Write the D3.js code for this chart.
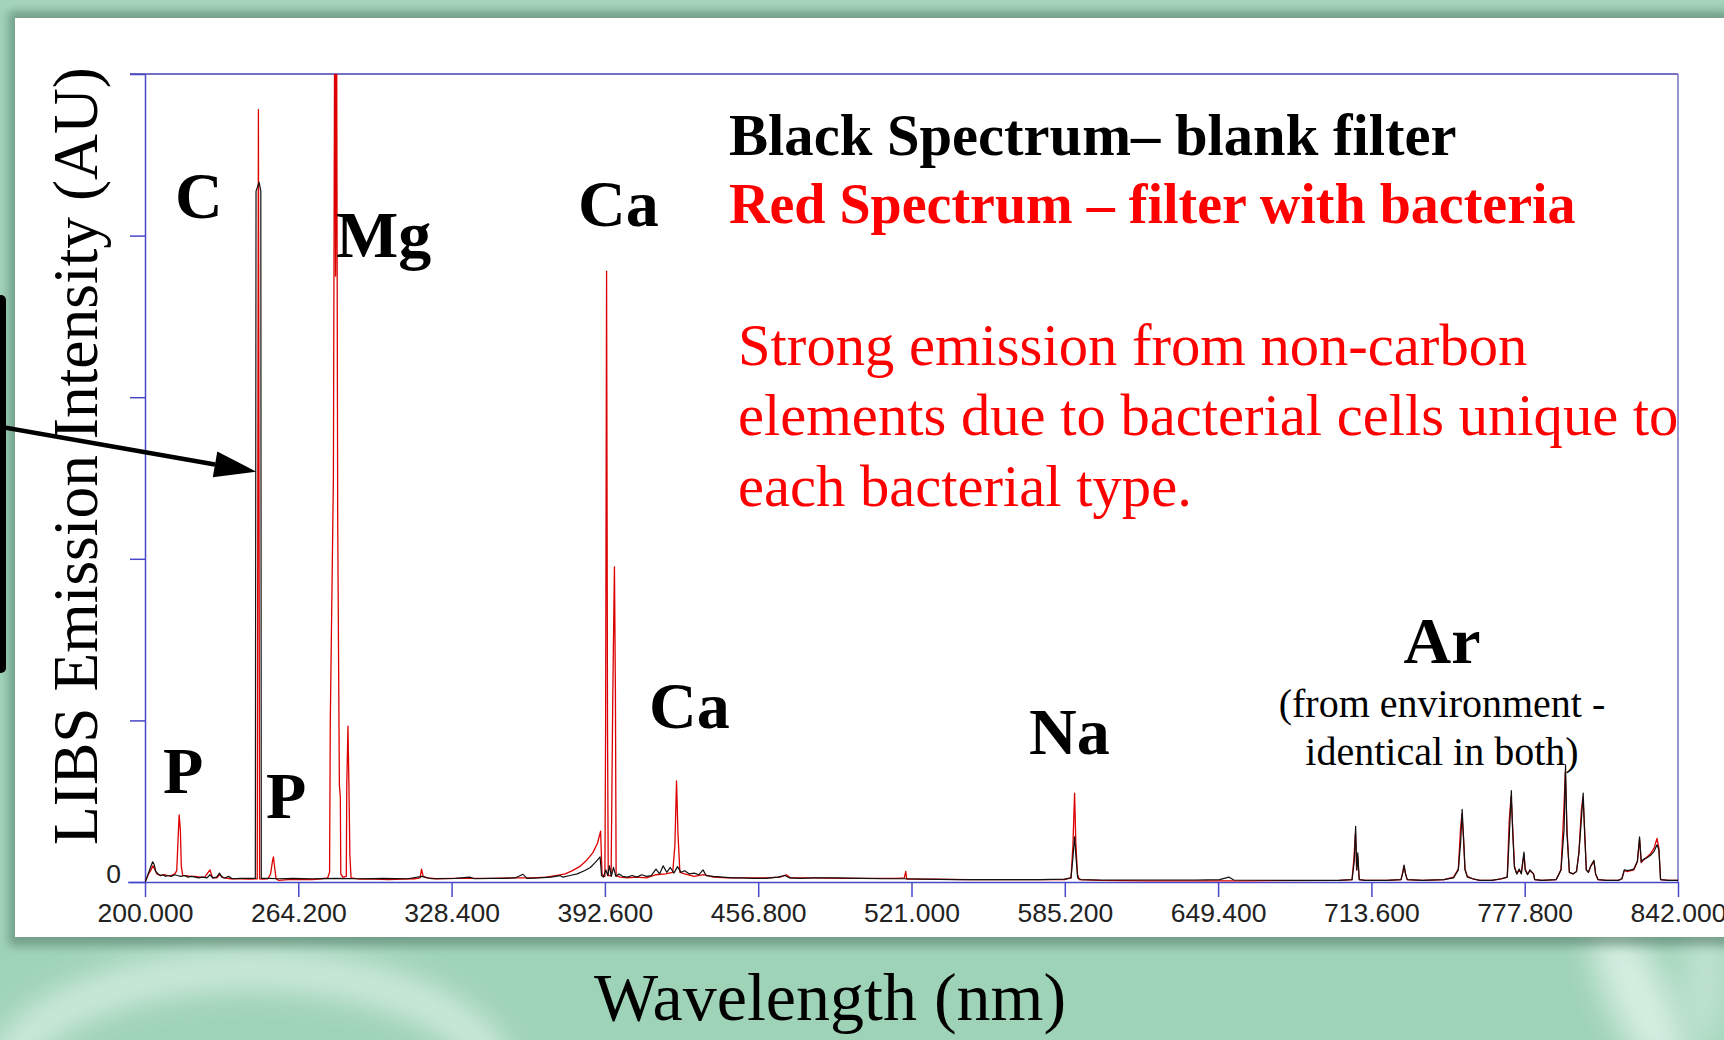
<!DOCTYPE html>
<html>
<head>
<meta charset="utf-8">
<script src="https://cdn.jsdelivr.net/npm/d3@7"></script>
<style>
  html, body { margin: 0; padding: 0; background: #9fd3b8; overflow: hidden; }
  svg { display: block; }
</style>
</head>
<body>
<div id="chart"></div>
<script>
// wavelength ticks (nm) and intensity ticks (% of full scale)
const xTicks = [200.0, 264.2, 328.4, 392.6, 456.8, 521.0, 585.2, 649.4, 713.6, 777.8, 842.0];
const yTicks = [0, 20, 40, 60, 80, 100];

// Black spectrum - blank filter: [wavelength nm, intensity %]
const blankSpectrum = [
  [200.0, 0.0], [200.5, 0.3], [201.3, 1.0], [202.3, 1.8], [203.2, 2.5], [203.8, 2.2], [204.5, 1.3],
  [205.5, 1.0], [206.5, 0.8], [207.5, 0.9], [208.5, 0.7], [209.5, 0.8], [211.0, 0.7], [212.5, 0.9],
  [213.5, 0.8], [215.0, 0.7], [216.5, 0.8], [218.0, 0.6], [219.5, 0.7], [221.0, 0.6], [222.5, 0.5],
  [224.0, 0.6], [226.0, 0.5], [227.2, 0.9], [228.5, 0.5], [230.0, 0.6], [231.2, 1.1], [232.2, 0.6],
  [233.5, 0.5], [235.0, 0.7], [236.5, 0.4], [240.0, 0.45], [244.0, 0.45], [246.2, 0.45],
  [246.5, 85.5], [247.8, 86.6], [248.5, 85.5], [248.7, 0.45],
  [252.0, 0.45], [256.0, 0.4], [262.0, 0.45], [270.0, 0.4], [280.0, 0.45], [290.0, 0.4],
  [300.0, 0.45], [310.0, 0.4], [316.0, 0.7], [320.0, 0.4], [330.0, 0.45], [336.0, 0.6], [338.0, 0.4],
  [345.0, 0.45], [350.0, 0.45], [355.0, 0.5], [358.3, 0.95], [360.0, 0.45], [365.0, 0.5],
  [370.0, 0.6], [373.8, 0.8], [375.0, 0.6], [378.0, 0.8], [381.0, 1.0], [384.0, 1.4], [386.5, 1.8],
  [388.5, 2.4], [390.0, 2.9], [390.6, 3.1], [391.2, 0.8], [392.0, 0.6], [393.0, 1.5], [393.8, 0.8],
  [394.5, 2.0], [395.3, 0.7], [396.2, 1.8], [397.2, 0.7], [398.5, 1.0], [400.0, 0.7], [402.0, 0.6],
  [404.0, 0.8], [406.0, 0.6], [408.0, 0.9], [410.0, 0.7], [412.0, 0.8], [414.0, 1.6], [415.5, 1.0],
  [417.0, 2.0], [418.5, 1.2], [420.0, 1.8], [421.5, 1.1], [423.0, 1.9], [424.5, 1.2], [426.0, 1.4],
  [428.0, 1.0], [430.0, 1.1], [432.0, 0.9], [433.7, 1.5], [435.0, 0.8], [438.0, 0.7], [442.0, 0.6],
  [446.0, 0.5], [450.0, 0.5], [455.0, 0.45], [460.0, 0.45], [465.0, 0.6], [468.0, 0.8], [470.0, 0.5],
  [475.0, 0.45], [480.0, 0.5], [490.0, 0.5], [500.0, 0.45], [510.0, 0.4], [518.0, 0.4], [525.0, 0.35],
  [540.0, 0.3], [560.0, 0.3], [575.0, 0.3], [585.0, 0.35], [587.8, 0.5], [588.6, 3.0], [589.3, 5.6],
  [589.9, 3.0], [590.6, 0.5], [592.0, 0.3], [600.0, 0.25], [620.0, 0.25], [640.0, 0.25], [650.0, 0.3],
  [654.0, 0.6], [656.0, 0.25], [680.0, 0.2], [700.0, 0.2],
  [705.5, 0.3], [706.4, 2.5], [707.0, 6.9], [707.5, 1.5], [707.9, 3.6], [708.5, 0.3], [711.0, 0.2],
  [720.0, 0.2], [726.0, 0.3], [726.8, 1.2], [727.3, 2.1], [727.9, 1.0], [728.6, 0.3], [735.0, 0.2],
  [744.0, 0.3], [748.0, 0.5], [750.0, 1.5], [751.0, 5.0], [751.6, 9.0], [752.2, 5.5], [752.8, 1.5],
  [753.8, 0.6], [756.0, 0.4], [759.0, 0.2], [764.0, 0.2], [768.0, 0.4], [770.5, 0.6], [771.4, 6.0],
  [772.2, 11.3], [772.8, 6.0], [773.5, 1.8], [774.5, 1.0], [775.5, 1.6], [776.4, 1.0], [777.0, 2.6],
  [777.5, 3.7], [778.0, 1.5], [779.0, 0.9], [780.0, 1.5], [781.5, 1.0], [782.0, 0.3], [785.0, 0.2],
  [791.0, 0.3], [793.0, 1.5], [794.3, 6.5], [794.9, 14.5], [795.5, 6.0], [796.5, 1.2], [798.0, 1.0],
  [799.5, 1.3], [800.5, 3.6], [801.6, 8.0], [802.3, 11.0], [802.9, 6.0], [803.6, 1.5], [804.5, 1.2],
  [805.5, 2.0], [806.8, 2.7], [807.5, 1.0], [808.5, 0.3], [812.0, 0.2], [817.0, 0.2], [818.5, 0.4],
  [819.5, 1.5], [821.0, 1.4], [823.5, 1.6], [825.0, 2.6], [825.9, 5.6], [826.6, 2.5], [827.5, 2.8],
  [829.0, 3.0], [830.5, 3.3], [832.0, 3.8], [833.2, 4.6], [834.0, 4.0], [834.7, 0.3], [838.0, 0.2],
  [842.0, 0.2]
];

// Red spectrum - filter with bacteria: [wavelength nm, intensity %]
const bacteriaSpectrum = [
  [200.0, 0.0], [200.6, 0.4], [201.5, 1.0], [202.5, 1.5], [203.3, 2.0], [204.0, 1.6], [205.0, 1.0],
  [206.5, 0.8], [208.0, 0.9], [209.5, 0.8], [211.0, 0.8], [212.5, 1.0], [213.3, 1.4], [213.8, 5.0],
  [214.3, 8.3], [214.8, 6.5], [215.2, 2.0], [215.8, 0.8], [217.0, 0.8], [219.0, 0.7], [221.0, 0.7],
  [223.0, 0.6], [225.0, 0.6], [227.2, 1.5], [228.3, 0.5], [230.0, 0.5], [231.3, 0.9], [233.0, 0.5],
  [236.0, 0.4], [240.0, 0.4], [244.0, 0.35], [247.0, 0.4], [247.5, 95.6], [248.0, 0.4], [249.0, 0.35],
  [251.5, 0.4], [252.6, 1.0], [253.4, 2.6], [253.8, 3.1], [254.3, 1.8], [254.9, 0.4], [256.0, 0.2],
  [260.0, 0.3], [265.0, 0.3], [270.0, 0.3], [274.0, 0.4], [276.5, 0.5], [277.3, 1.2], [277.6, 20],
  [278.9, 50], [279.55, 120], [279.8, 75], [280.27, 103], [280.7, 45], [281.4, 12], [281.8, 10.5],
  [282.0, 1.0], [282.8, 0.6], [284.3, 0.7], [284.5, 12], [285.0, 19.3], [285.4, 12], [285.8, 3.3],
  [286.3, 0.5], [290.0, 0.35], [296.0, 0.35], [302.0, 0.3], [308.0, 0.35], [313.0, 0.4], [315.2, 0.5],
  [315.8, 1.6], [316.5, 0.7], [318.0, 0.5], [322.0, 0.4], [330.0, 0.45], [338.0, 0.45], [346.0, 0.45],
  [354.0, 0.5], [362.0, 0.5], [368.0, 0.6], [372.0, 0.8], [376.0, 1.0], [379.0, 1.4], [382.0, 1.9],
  [385.0, 2.7], [387.5, 3.6], [389.5, 4.8], [390.8, 6.3], [391.4, 1.0], [392.2, 0.7], [392.6, 0.7],
  [392.9, 19], [393.3, 75.6], [393.7, 19], [394.0, 0.8], [395.2, 0.8], [395.9, 23], [396.3, 32.5],
  [396.6, 39], [397.0, 23.5], [397.3, 0.8], [399.0, 0.6], [402.0, 0.5], [406.0, 0.6], [410.0, 0.5],
  [414.0, 0.9], [418.0, 1.0], [421.0, 1.2], [421.9, 4.5], [422.6, 12.5], [423.2, 6.0], [424.0, 1.2],
  [426.0, 1.0], [430.0, 0.7], [434.0, 0.9], [438.0, 0.6], [444.0, 0.5], [452.0, 0.5], [460.0, 0.5],
  [466.0, 0.6], [468.5, 0.9], [470.5, 0.5], [480.0, 0.5], [492.0, 0.45], [505.0, 0.45], [515.0, 0.45],
  [518.0, 0.5], [518.6, 1.3], [519.0, 0.35], [530.0, 0.35], [545.0, 0.3], [560.0, 0.3], [575.0, 0.3],
  [585.0, 0.3], [587.8, 0.5], [588.6, 4.5], [589.3, 11.0], [589.8, 5.0], [590.5, 1.0], [591.2, 0.3],
  [600.0, 0.2], [620.0, 0.15], [660.0, 0.15], [700.0, 0.2],
  [705.5, 0.3], [706.3, 3.0], [706.9, 6.0], [707.4, 1.5], [707.8, 3.2], [708.5, 0.3], [711.0, 0.2],
  [720.0, 0.2], [726.0, 0.3], [726.7, 1.2], [727.2, 2.0], [727.9, 1.0], [728.6, 0.3], [735.0, 0.2],
  [744.0, 0.3], [748.0, 0.6], [750.0, 1.6], [750.9, 6.5], [751.5, 8.4], [752.2, 5.2], [752.8, 1.6],
  [753.8, 0.7], [756.0, 0.4], [759.0, 0.2], [764.0, 0.2], [768.0, 0.4], [770.5, 0.6], [771.3, 7.5],
  [772.1, 10.6], [772.8, 6.5], [773.5, 2.0], [774.5, 1.0], [775.5, 1.5], [776.4, 1.1], [777.0, 2.4],
  [777.5, 3.4], [778.0, 1.6], [779.0, 1.0], [780.0, 1.4], [781.5, 1.0], [782.0, 0.3], [785.0, 0.2],
  [791.0, 0.3], [793.0, 1.5], [794.2, 9.0], [794.8, 13.6], [795.5, 6.5], [796.5, 1.2], [798.0, 1.0],
  [799.5, 1.3], [800.5, 3.6], [801.5, 8.8], [802.2, 10.5], [802.9, 6.5], [803.6, 1.5], [804.5, 1.2],
  [805.5, 2.0], [806.8, 2.5], [807.5, 1.0], [808.5, 0.3], [812.0, 0.2], [817.0, 0.2], [818.5, 0.4],
  [819.5, 1.4], [821.0, 1.3], [823.5, 1.5], [825.0, 2.5], [825.9, 5.3], [826.6, 2.4], [827.5, 2.7],
  [829.0, 3.1], [830.5, 3.5], [832.0, 4.2], [833.2, 5.4], [834.0, 4.2], [834.7, 0.3], [838.0, 0.2],
  [842.0, 0.2]
];

const W = 1724, H = 1040;

const svg = d3.select("#chart")
  .append("svg")
  .attr("width", W)
  .attr("height", H);

const defs = svg.append("defs");
defs.append("filter").attr("id", "blurBig")
  .attr("x", "-50%").attr("y", "-50%").attr("width", "200%").attr("height", "200%")
  .append("feGaussianBlur").attr("stdDeviation", 16);
defs.append("filter").attr("id", "blurSmall")
  .attr("x", "-10%").attr("y", "-10%").attr("width", "120%").attr("height", "120%")
  .append("feGaussianBlur").attr("stdDeviation", 5);

// --- slide background ---
const bg = svg.append("g");
bg.append("rect").attr("width", W).attr("height", H).attr("fill", "#9fd3b8");
bg.append("rect").attr("x", 0).attr("y", 0).attr("width", W).attr("height", 10)
  .attr("fill", "#a9d6c0").attr("filter", "url(#blurSmall)");
// pale arc bottom-left and streaks bottom-right
bg.append("ellipse").attr("cx", 250).attr("cy", 1090).attr("rx", 250).attr("ry", 120)
  .attr("fill", "none").attr("stroke", "#e6f6ee").attr("stroke-width", 34)
  .attr("opacity", 0.75).attr("filter", "url(#blurBig)");
bg.append("ellipse").attr("cx", 1640).attr("cy", 1000).attr("rx", 30).attr("ry", 90)
  .attr("transform", "rotate(-25,1640,1000)")
  .attr("fill", "#e4f5ec").attr("opacity", 0.8).attr("filter", "url(#blurBig)");
bg.append("ellipse").attr("cx", 1705).attr("cy", 980).attr("rx", 20).attr("ry", 70)
  .attr("fill", "#d2ece0").attr("opacity", 0.7).attr("filter", "url(#blurBig)");
// shadow around white panel
bg.append("rect").attr("x", 9).attr("y", 11).attr("width", W).attr("height", 935)
  .attr("fill", "#4f7464").attr("opacity", 0.55).attr("filter", "url(#blurSmall)");

// white panel
svg.append("rect").attr("x", 15).attr("y", 18).attr("width", W).attr("height", 919)
  .attr("fill", "#ffffff");

// --- scales ---
const x = d3.scaleLinear().domain([200, 842]).range([145, 1678]);
const y = d3.scaleLinear().domain([0, 100]).range([882, 74]);

defs.append("clipPath").attr("id", "plotClip")
  .append("rect")
  .attr("x", x(200)).attr("y", y(100))
  .attr("width", x(842) - x(200)).attr("height", y(0) - y(100) + 1);

// frame (top and right)
svg.append("line")
  .attr("x1", x(200) - 15).attr("x2", x(842))
  .attr("y1", y(100)).attr("y2", y(100))
  .attr("stroke", "#7471c2").attr("stroke-width", 2);
svg.append("line")
  .attr("x1", x(842)).attr("x2", x(842))
  .attr("y1", y(100)).attr("y2", y(0))
  .attr("stroke", "#7471c2").attr("stroke-width", 1.5);

// axes
const xAxis = d3.axisBottom(x)
  .tickValues(xTicks)
  .tickSizeInner(15)
  .tickSizeOuter(0)
  .tickFormat(d3.format(".3f"));

const yAxis = d3.axisLeft(y)
  .tickValues(yTicks)
  .tickSizeInner(15)
  .tickSizeOuter(0)
  .tickFormat(d => d === 0 ? "0" : "");

const gx = svg.append("g")
  .attr("transform", `translate(0,${y(0)})`)
  .call(xAxis);
gx.select(".domain").attr("stroke", "#4848c8").attr("stroke-width", 1.5)
  .attr("d", `M${x(200) - 17},0.5H${x(842)}`);
gx.selectAll(".tick line").attr("stroke", "#4848c8").attr("stroke-width", 1.5);
gx.selectAll(".tick text")
  .attr("y", 21)
  .attr("fill", "#222")
  .style("font-family", "'Liberation Sans', Arial, sans-serif")
  .style("font-size", "26.5px");

const gy = svg.append("g")
  .attr("transform", `translate(${x(200)},0)`)
  .call(yAxis);
gy.select(".domain").attr("stroke", "#4848c8").attr("stroke-width", 1.5);
gy.selectAll(".tick line").attr("stroke", "#4848c8").attr("stroke-width", 1.5);
gy.selectAll(".tick text")
  .attr("x", -24)
  .attr("dy", "0em")
  .attr("fill", "#222")
  .style("font-family", "'Liberation Sans', Arial, sans-serif")
  .style("font-size", "26.5px");

// --- spectra ---
const line = d3.line()
  .x(d => x(d[0]))
  .y(d => y(d[1]));

const plot = svg.append("g").attr("clip-path", "url(#plotClip)");
plot.append("path")
  .datum(bacteriaSpectrum)
  .attr("fill", "none")
  .attr("stroke", "#dc0000")
  .attr("stroke-width", 1.3)
  .attr("stroke-linejoin", "round")
  .attr("d", line);
plot.append("path")
  .datum(blankSpectrum)
  .attr("fill", "none")
  .attr("stroke", "#111")
  .attr("stroke-width", 1.2)
  .attr("stroke-linejoin", "round")
  .attr("d", line);

// --- text annotations ---
const serif = "'Liberation Serif', 'Times New Roman', serif";

function label(txt, px, py, size, opts = {}) {
  return svg.append("text")
    .attr("x", px).attr("y", py)
    .attr("text-anchor", opts.anchor || "start")
    .attr("fill", opts.color || "#000")
    .style("font-family", serif)
    .style("font-weight", opts.bold ? "bold" : "normal")
    .style("font-size", size + "px")
    .text(txt);
}

label("C", 175, 218, 66, { bold: true });
label("Mg", 336, 257, 66, { bold: true });
label("Ca", 578, 226, 66, { bold: true });
label("P", 163, 793, 66, { bold: true });
label("P", 266, 818, 66, { bold: true });
label("Ca", 649, 728, 66, { bold: true });
label("Na", 1029, 754, 66, { bold: true });
label("Ar", 1442, 663, 66, { bold: true, anchor: "middle" });
label("(from environment -", 1442, 717, 40, { anchor: "middle" });
label("identical in both)", 1442, 765, 40, { anchor: "middle" });

label("Black Spectrum\u2013 blank filter", 729, 155, 58.6, { bold: true });
label("Red Spectrum \u2013 filter with bacteria", 729, 223, 56, { bold: true, color: "#ff0000" });

label("Strong emission from non-carbon", 738, 365, 58.6, { color: "#ff0000" });
label("elements due to bacterial cells unique to", 738, 435, 58.6, { color: "#ff0000" });
label("each bacterial type.", 738, 506, 58.6, { color: "#ff0000" });

// axis titles
svg.append("text")
  .attr("transform", "translate(97,456) rotate(-90)")
  .attr("text-anchor", "middle")
  .style("font-family", serif)
  .style("font-size", "63.5px")
  .text("LIBS Emission Intensity (AU)");

label("Wavelength (nm)", 830, 1020, 68, { anchor: "middle" });

// pointer bar and arrow on the left
svg.append("rect")
  .attr("x", -6).attr("y", 295).attr("width", 12).attr("height", 378)
  .attr("rx", 5).attr("fill", "#000");

const tip = [256.4, 471.7], tail = [0, 426.6];
const dx = tip[0] - tail[0], dy = tip[1] - tail[1];
const len = Math.hypot(dx, dy), ux = dx / len, uy = dy / len;
const base = [tip[0] - 42 * ux, tip[1] - 42 * uy];
svg.append("line")
  .attr("x1", tail[0]).attr("y1", tail[1])
  .attr("x2", base[0]).attr("y2", base[1])
  .attr("stroke", "#000").attr("stroke-width", 4.5);
svg.append("path")
  .attr("d", `M${tip[0]},${tip[1]}L${base[0] - 13 * uy},${base[1] + 13 * ux}L${base[0] + 13 * uy},${base[1] - 13 * ux}Z`)
  .attr("fill", "#000");
</script>
</body>
</html>
